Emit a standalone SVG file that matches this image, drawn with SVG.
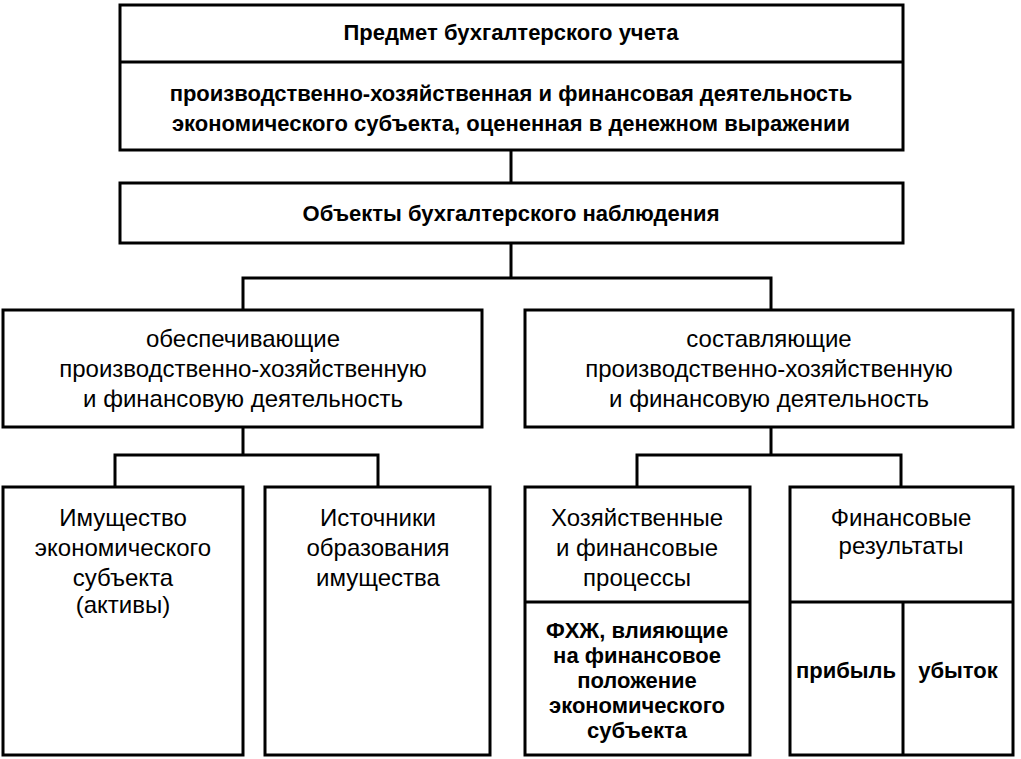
<svg xmlns="http://www.w3.org/2000/svg" width="1021" height="759" viewBox="0 0 1021 759">
<style>
rect,line,path{fill:none;stroke:#000;stroke-width:3}
text{font-family:"Liberation Sans",Arial,sans-serif;font-size:22px;font-weight:bold;text-anchor:middle;fill:#000}
.m{font-weight:normal;font-size:24px}
</style>
<rect width="1021" height="759" style="fill:#fff;stroke:none"/>
<g id="n1"><rect x="120" y="5" width="783" height="145"/><line x1="120" y1="62" x2="903" y2="62"/>
<text x="511" y="40">Предмет бухгалтерского учета</text>
<text x="511" y="101">производственно-хозяйственная и финансовая деятельность</text>
<text x="511" y="131">экономического субъекта, оцененная в денежном выражении</text></g>
<g id="n2"><rect x="120" y="183" width="783" height="60"/><text x="511" y="221">Объекты бухгалтерского наблюдения</text></g>
<g id="n3"><rect x="3" y="310" width="479" height="117"/>
<text class="m" x="243" y="347">обеспечивающие</text><text class="m" x="243" y="377">производственно-хозяйственную</text><text class="m" x="243" y="407">и финансовую деятельность</text></g>
<g id="n4"><rect x="525" y="310" width="488" height="117"/>
<text class="m" x="769" y="347">составляющие</text><text class="m" x="769" y="377">производственно-хозяйственную</text><text class="m" x="769" y="407">и финансовую деятельность</text></g>
<g id="n5"><rect x="3" y="487" width="240" height="268"/>
<text class="m" x="123" y="526">Имущество</text><text class="m" x="123" y="556">экономического</text><text class="m" x="123" y="586">субъекта</text><text class="m" x="123" y="613">(активы)</text></g>
<g id="n6"><rect x="265" y="487" width="225" height="268"/>
<text class="m" x="378" y="526">Источники</text><text class="m" x="378" y="556">образования</text><text class="m" x="378" y="586">имущества</text></g>
<g id="n7"><rect x="525" y="487" width="225" height="268"/><line x1="525" y1="602" x2="750" y2="602"/>
<text class="m" x="637" y="526">Хозяйственные</text><text class="m" x="637" y="556">и финансовые</text><text class="m" x="637" y="586">процессы</text>
<text x="637" y="638">ФХЖ, влияющие</text><text x="637" y="663">на финансовое</text><text x="637" y="688">положение</text><text x="637" y="713">экономического</text><text x="637" y="738">субъекта</text></g>
<g id="n8"><rect x="790" y="487" width="223" height="268"/><line x1="790" y1="602" x2="1013" y2="602"/><line x1="903" y1="602" x2="903" y2="755"/>
<text class="m" x="901" y="526">Финансовые</text><text class="m" x="901" y="554">результаты</text>
<text x="846" y="678">прибыль</text><text x="958" y="678">убыток</text></g>
<g id="connectors">
<line x1="511" y1="150" x2="511" y2="183"/>
<path d="M511 243V278M243 310V278H771V310"/>
<path d="M243 427V455M115 487V455H378V487"/>
<path d="M771 427V455M637 487V455H901V487"/>
</g>
</svg>
